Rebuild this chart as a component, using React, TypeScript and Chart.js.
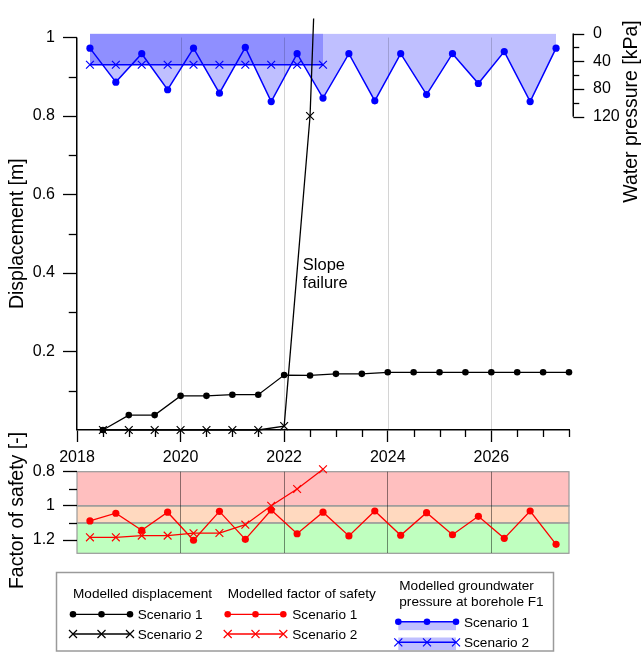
import React, { useEffect, useRef } from "react";
import { Chart, registerables } from "chart.js";

Chart.register(...registerables);

const FONT = "'Liberation Sans', Arial, Helvetica, sans-serif";

// ---------------- data ----------------
const displacementYears = [2018.5, 2019, 2019.5, 2020, 2020.5, 2021, 2021.5, 2022, 2022.5, 2023, 2023.5, 2024, 2024.5, 2025, 2025.5, 2026, 2026.5, 2027, 2027.5];
const displacementScenario1 = [0, 0.038, 0.038, 0.087, 0.087, 0.09, 0.09, 0.14, 0.139, 0.143, 0.143, 0.147, 0.147, 0.147, 0.147, 0.147, 0.147, 0.147, 0.147];
const displacementScenario2Years = [2018.5, 2019, 2019.5, 2020, 2020.5, 2021, 2021.5, 2022, 2022.5, 2023];
const displacementScenario2 = [0, 0, 0, 0, 0, 0, 0, 0.01, 0.8, 2.6];

const seasonYears = [2018.25, 2018.75, 2019.25, 2019.75, 2020.25, 2020.75, 2021.25, 2021.75, 2022.25, 2022.75, 2023.25, 2023.75, 2024.25, 2024.75, 2025.25, 2025.75, 2026.25, 2026.75, 2027.25];
const scenario2SeasonYears = [2018.25, 2018.75, 2019.25, 2019.75, 2020.25, 2020.75, 2021.25, 2021.75, 2022.25, 2022.75];
const pressureScenario1 = [21, 70, 29, 81, 21, 86, 20, 98, 29, 93, 29, 97, 29, 88, 29, 72, 26, 98, 21];
const pressureScenario2 = [45, 45, 45, 45, 45, 45, 45, 45, 45, 45];
const fosScenario1 = [1.088, 1.043, 1.143, 1.037, 1.201, 1.032, 1.196, 1.024, 1.163, 1.037, 1.176, 1.03, 1.172, 1.04, 1.169, 1.061, 1.19, 1.03, 1.225];
const fosScenario2 = [1.184, 1.184, 1.174, 1.174, 1.16, 1.159, 1.11, 0.999, 0.901, 0.786];

// zone limits of factor of safety (failure < 1.0 < marginal < 1.1 < stable)
const fosZoneLimits = [1.0, 1.1];

// ---------------- ticks / labels ----------------
const xMajorTicks = [2018, 2020, 2022, 2024, 2026];
const xGridYears = [2020, 2022, 2024, 2026];
const xMinorTicks = [2018.5, 2019, 2019.5, 2020.5, 2021, 2021.5, 2022.5, 2023, 2023.5, 2024.5, 2025, 2025.5, 2026.5, 2027, 2027.5];
const dispTicks = [0.2, 0.4, 0.6, 0.8, 1];
const dispMinorTicks = [0.1, 0.3, 0.5, 0.7, 0.9];
const pressureTicks = [0, 40, 80, 120];
const pressureMinorTicks = [20, 60, 100];
const fosTicks = [0.8, 1, 1.2];
const fosMinorTicks = [0.9, 1.1];

const titleDisplacement = "Displacement [m]";
const titlePressure = "Water pressure [kPa]";
const titleFos = "Factor of safety [-]";
const annotationLines = ["Slope", "failure"];
const annotationAt = { x: 2022.36, y: 0.42 };

const legendTitles = {
  disp: "Modelled displacement",
  fos: "Modelled factor of safety",
  gw1: "Modelled groundwater",
  gw2: "pressure at borehole F1",
};
const scenarioNames = ["Scenario 1", "Scenario 2"];

// ---------------- helpers ----------------
const zip = (xs: number[], ys: number[]) => xs.map((x, i) => ({ x, y: ys[i] }));

function seg(ctx: CanvasRenderingContext2D, x1: number, y1: number, x2: number, y2: number) {
  ctx.beginPath();
  ctx.moveTo(x1, y1);
  ctx.lineTo(x2, y2);
  ctx.stroke();
}

function vText(ctx: CanvasRenderingContext2D, text: string, x: number, y: number, size: number) {
  ctx.save();
  ctx.translate(x, y);
  ctx.rotate(-Math.PI / 2);
  ctx.font = `${size}px ${FONT}`;
  ctx.fillStyle = "#000";
  ctx.textAlign = "center";
  ctx.textBaseline = "middle";
  ctx.fillText(text, 0, 0);
  ctx.restore();
}

const tickFont = { size: 16, family: FONT };
const BLUE = "#0000ff";
const RED = "#ff0000";

const mainDecor = {
  id: "mainDecor",
  beforeDatasetsDraw(chart: any) {
    const { ctx, scales } = chart;
    const x = scales.x;
    const y = scales.y;
    ctx.save();
    ctx.strokeStyle = "rgba(0,0,0,0.17)";
    ctx.lineWidth = 1;
    for (const yr of xGridYears) {
      const px = Math.round(x.getPixelForValue(yr)) + 0.5;
      seg(ctx, px, y.getPixelForValue(1), px, y.getPixelForValue(0));
    }
    ctx.restore();
  },
  afterDatasetsDraw(chart: any) {
    const { ctx, scales } = chart;
    const px = scales.x.getPixelForValue(annotationAt.x);
    const py = scales.y.getPixelForValue(annotationAt.y);
    ctx.save();
    ctx.font = `16.5px ${FONT}`;
    ctx.fillStyle = "#000";
    ctx.textAlign = "left";
    ctx.textBaseline = "middle";
    annotationLines.forEach((t, i) => ctx.fillText(t, px, py + i * 18.5));
    ctx.restore();
  },
  afterDraw(chart: any) {
    const { ctx, scales, chartArea } = chart;
    const x = scales.x;
    const y = scales.y;
    const yP = scales.yP;
    ctx.save();
    ctx.strokeStyle = "#000";
    ctx.lineWidth = 1.5;
    // left displacement axis line
    const lx = 76.75;
    seg(ctx, lx, y.getPixelForValue(1), lx, y.getPixelForValue(0));
    ctx.lineWidth = 1.3;
    for (const v of dispMinorTicks) {
      const py = Math.round(y.getPixelForValue(v)) + 0.5;
      seg(ctx, lx - 8, py, lx, py);
    }
    // minor x ticks
    const by = chartArea.bottom;
    for (const v of xMinorTicks) {
      const px = Math.round(x.getPixelForValue(v)) + 0.5;
      seg(ctx, px, by, px, by + 7);
    }
    // pressure axis
    const rx = Math.round(chartArea.right + 4) + 0.25;
    ctx.lineWidth = 1.5;
    seg(ctx, rx, yP.getPixelForValue(0), rx, yP.getPixelForValue(120));
    ctx.lineWidth = 1.3;
    for (const v of pressureTicks) {
      const py = Math.round(yP.getPixelForValue(v)) + 0.5;
      seg(ctx, rx, py, rx + 11, py);
    }
    for (const v of pressureMinorTicks) {
      const py = Math.round(yP.getPixelForValue(v)) + 0.5;
      seg(ctx, rx, py, rx + 6, py);
    }
    ctx.restore();
    // axis titles
    vText(ctx, titleDisplacement, 17.5, (y.getPixelForValue(0) + y.getPixelForValue(1)) / 2, 19.5);
    vText(ctx, titlePressure, 631.5, 111.5, 19.5);
  },
};

const fosDecor = {
  id: "fosDecor",
  beforeDraw(chart: any) {
    const { ctx, chartArea: a, scales } = chart;
    const y = scales.y;
    const bounds = [y.min, ...fosZoneLimits, y.max];
    const colors = ["#ffbfbf", "#ffd9bf", "#bfffbf"];
    ctx.save();
    for (let i = 0; i < colors.length; i++) {
      const t = y.getPixelForValue(bounds[i]);
      const b = y.getPixelForValue(bounds[i + 1]);
      ctx.fillStyle = colors[i];
      ctx.fillRect(a.left, t, a.right - a.left, b - t);
    }
    ctx.strokeStyle = "#9a9a9a";
    ctx.lineWidth = 1.2;
    for (let i = 0; i < colors.length; i++) {
      const t = y.getPixelForValue(bounds[i]);
      const b = y.getPixelForValue(bounds[i + 1]);
      ctx.strokeRect(a.left, t, a.right - a.left, b - t);
    }
    ctx.restore();
  },
  afterDraw(chart: any) {
    const { ctx, chartArea: a, scales } = chart;
    const y = scales.y;
    ctx.save();
    ctx.strokeStyle = "#000";
    ctx.lineWidth = 1.3;
    for (const v of fosMinorTicks) {
      const py = Math.round(y.getPixelForValue(v)) + 0.5;
      seg(ctx, a.left - 8, py, a.left, py);
    }
    ctx.restore();
    vText(ctx, titleFos, 17.5, 90.5, 19.5);
  },
};

function Legend() {
  const t: any = { fontFamily: FONT, fontSize: 13.6, fill: "#000", dominantBaseline: "central" };
  const circles = (xs: number[], y: number, c: string) =>
    xs.map((x) => <circle key={"c" + x + "_" + y} cx={x} cy={y} r={3.3} fill={c} />);
  const crosses = (xs: number[], y: number, c: string) =>
    xs.map((x) => (
      <path key={"x" + x + "_" + y} d={`M${x - 4},${y - 4}L${x + 4},${y + 4}M${x - 4},${y + 4}L${x + 4},${y - 4}`} stroke={c} strokeWidth={1.2} fill="none" />
    ));
  const bx = [73, 101.5, 130];
  const rx = [227.7, 255.5, 283.3];
  const ux = [398.3, 427, 456];
  return (
    <svg width={641} height={657} style={{ position: "absolute", left: 0, top: 0, pointerEvents: "none" }}>
      <rect x={56.5} y={572.5} width={497} height={78.5} fill="none" stroke="#9a9a9a" strokeWidth={1.5} />
      <text x={73} y={593.3} {...t}>{legendTitles.disp}</text>
      <line x1={bx[0]} x2={bx[2]} y1={614.3} y2={614.3} stroke="#000" strokeWidth={1.3} />
      {circles(bx, 614.3, "#000")}
      <text x={137.7} y={614.3} {...t}>{scenarioNames[0]}</text>
      <line x1={bx[0]} x2={bx[2]} y1={634} y2={634} stroke="#000" strokeWidth={1.3} />
      {crosses(bx, 634, "#000")}
      <text x={137.7} y={634} {...t}>{scenarioNames[1]}</text>

      <text x={227.7} y={593.3} {...t}>{legendTitles.fos}</text>
      <line x1={rx[0]} x2={rx[2]} y1={614.3} y2={614.3} stroke={RED} strokeWidth={1.3} />
      {circles(rx, 614.3, RED)}
      <text x={292.3} y={614.3} {...t}>{scenarioNames[0]}</text>
      <line x1={rx[0]} x2={rx[2]} y1={634} y2={634} stroke={RED} strokeWidth={1.3} />
      {crosses(rx, 634, RED)}
      <text x={292.3} y={634} {...t}>{scenarioNames[1]}</text>

      <text x={399.3} y={585} {...t}>{legendTitles.gw1}</text>
      <text x={399.3} y={601.7} {...t}>{legendTitles.gw2}</text>
      <rect x={ux[0]} y={621.7} width={ux[2] - ux[0]} height={8.5} fill="#bfbfff" />
      <line x1={ux[0]} x2={ux[2]} y1={621.7} y2={621.7} stroke={BLUE} strokeWidth={1.4} />
      {circles(ux, 621.7, BLUE)}
      <text x={464} y={622.3} {...t}>{scenarioNames[0]}</text>
      <rect x={ux[0]} y={637.5} width={ux[2] - ux[0]} height={12.5} fill="#bfbfff" />
      <line x1={ux[0]} x2={ux[2]} y1={642.3} y2={642.3} stroke={BLUE} strokeWidth={1.4} />
      {crosses(ux, 642.3, BLUE)}
      <text x={464} y={642.3} {...t}>{scenarioNames[1]}</text>
    </svg>
  );
}

export default function App() {
  const mainRef = useRef<HTMLCanvasElement>(null);
  const fosRef = useRef<HTMLCanvasElement>(null);

  useEffect(() => {
    const numLabel = (v: any) => String(Number(v));
    const main = new Chart(mainRef.current as HTMLCanvasElement, {
      type: "line",
      data: {
        datasets: [
          {
            data: zip(displacementScenario2Years, displacementScenario2),
            yAxisID: "y",
            borderColor: "#000",
            borderWidth: 1.3,
            pointStyle: "crossRot",
            pointRadius: 5.5,
            pointBorderColor: "#000",
            pointBackgroundColor: "#000",
            pointBorderWidth: 1.2,
            fill: false,
            tension: 0,
            clip: { left: 10, right: 10, bottom: 10, top: 15 },
          },
          {
            data: zip(displacementYears, displacementScenario1),
            yAxisID: "y",
            borderColor: "#000",
            borderWidth: 1.3,
            pointStyle: "circle",
            pointRadius: 3.3,
            pointBackgroundColor: "#000",
            pointBorderWidth: 0,
            fill: false,
            clip: 10,
          },
          {
            data: zip(scenario2SeasonYears, pressureScenario2),
            yAxisID: "yP",
            borderColor: BLUE,
            borderWidth: 1.5,
            pointStyle: "crossRot",
            pointRadius: 5.5,
            pointBorderColor: BLUE,
            pointBackgroundColor: BLUE,
            pointBorderWidth: 1.2,
            fill: { value: 0 },
            backgroundColor: "#8f8fff",
            clip: 10,
          },
          {
            data: zip(seasonYears, pressureScenario1),
            yAxisID: "yP",
            borderColor: BLUE,
            borderWidth: 1.5,
            pointStyle: "circle",
            pointRadius: 3.6,
            pointBackgroundColor: BLUE,
            pointBorderWidth: 0,
            fill: { value: 0 },
            backgroundColor: "#bfbfff",
            clip: 10,
          },
        ] as any,
      },
      options: {
        responsive: false,
        animation: false,
        events: [],
        layout: { padding: { top: 25, left: 0, right: 0, bottom: 0 } },
        plugins: {
          legend: { display: false },
          tooltip: { enabled: false },
          filler: { drawTime: "beforeDatasetsDraw", propagate: false },
        } as any,
        scales: {
          x: {
            type: "linear",
            min: 2018,
            max: 2027.5,
            afterBuildTicks: (s: any) => {
              s.ticks = xMajorTicks.map((v) => ({ value: v }));
            },
            afterFit: (s: any) => {
              s.height = 40;
            },
            grid: { drawOnChartArea: false, tickLength: 12, tickColor: "#000", tickWidth: 1.3 },
            border: { display: true, color: "#000", width: 1.5 },
            ticks: { color: "#000", font: tickFont, padding: 6, maxRotation: 0, autoSkip: false, callback: numLabel },
          },
          y: {
            type: "linear",
            position: "left",
            min: 0,
            max: 1.00998,
            afterBuildTicks: (s: any) => {
              s.ticks = dispTicks.map((v) => ({ value: v }));
            },
            afterFit: (s: any) => {
              s.width = 77;
            },
            grid: { drawOnChartArea: false, tickLength: 14, tickColor: "#000", tickWidth: 1.3 },
            border: { display: false },
            ticks: { color: "#000", font: tickFont, padding: 8, autoSkip: false, callback: numLabel },
          },
          yP: {
            type: "linear",
            position: "right",
            reverse: true,
            min: 0,
            max: 571.8,
            afterBuildTicks: (s: any) => {
              s.ticks = pressureTicks.map((v) => ({ value: v }));
            },
            afterFit: (s: any) => {
              s.width = 72;
            },
            grid: { display: false, drawTicks: false, drawOnChartArea: false },
            border: { display: false },
            ticks: { color: "#000", font: tickFont, padding: 24, autoSkip: false, callback: numLabel },
          },
        } as any,
      },
      plugins: [mainDecor as any],
    });

    const fos = new Chart(fosRef.current as HTMLCanvasElement, {
      type: "line",
      data: {
        datasets: [
          {
            data: zip(seasonYears, fosScenario1),
            borderColor: RED,
            borderWidth: 1.3,
            pointStyle: "circle",
            pointRadius: 3.6,
            pointBackgroundColor: RED,
            pointBorderWidth: 0,
            fill: false,
            clip: 10,
          },
          {
            data: zip(scenario2SeasonYears, fosScenario2),
            borderColor: RED,
            borderWidth: 1.3,
            pointStyle: "crossRot",
            pointRadius: 5.5,
            pointBorderColor: RED,
            pointBackgroundColor: RED,
            pointBorderWidth: 1.2,
            fill: false,
            clip: 10,
          },
        ] as any,
      },
      options: {
        responsive: false,
        animation: false,
        events: [],
        layout: { padding: { top: 51.7, bottom: 46.7, left: 0, right: 72 } },
        plugins: { legend: { display: false }, tooltip: { enabled: false } },
        scales: {
          x: {
            type: "linear",
            min: 2018,
            max: 2027.5,
            afterBuildTicks: (s: any) => {
              s.ticks = xGridYears.map((v) => ({ value: v }));
            },
            afterFit: (s: any) => {
              s.height = 0;
            },
            grid: { display: true, drawOnChartArea: true, drawTicks: false, color: "rgba(0,0,0,0.45)", lineWidth: 1 },
            border: { display: false },
            ticks: { display: false },
          },
          y: {
            type: "linear",
            position: "left",
            reverse: true,
            min: 0.8,
            max: 1.2775,
            afterBuildTicks: (s: any) => {
              s.ticks = fosTicks.map((v) => ({ value: v }));
            },
            afterFit: (s: any) => {
              s.width = 77;
            },
            grid: { drawOnChartArea: false, tickLength: 14, tickColor: "#000", tickWidth: 1.3 },
            border: { display: false },
            ticks: { color: "#000", font: tickFont, padding: 8, autoSkip: false, callback: numLabel },
          },
        } as any,
      },
      plugins: [fosDecor as any],
    });

    return () => {
      main.destroy();
      fos.destroy();
    };
  }, []);

  return (
    <div style={{ position: "absolute", left: 0, top: 0, width: 641, height: 657, background: "#fff", overflow: "hidden" }}>
      <canvas ref={mainRef} width={641} height={470} style={{ position: "absolute", left: 0, top: 0 }} />
      <canvas ref={fosRef} width={641} height={180} style={{ position: "absolute", left: 0, top: 420 }} />
      <Legend />
    </div>
  );
}
